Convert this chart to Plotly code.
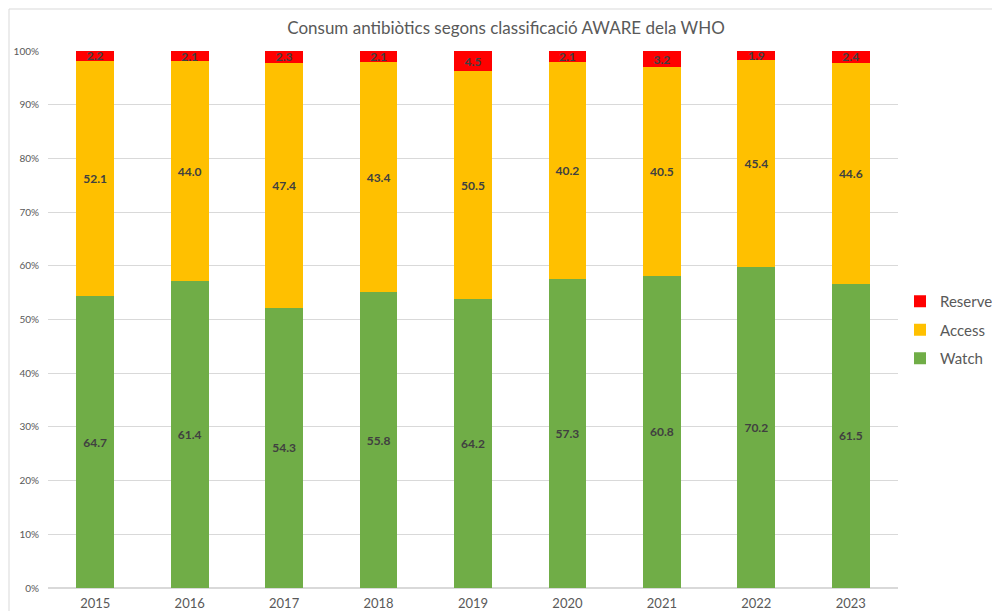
import plotly.graph_objects as go

years = ["2015", "2016", "2017", "2018", "2019", "2020", "2021", "2022", "2023"]
watch = [64.7, 61.4, 54.3, 55.8, 64.2, 57.3, 60.8, 70.2, 61.5]
access = [52.1, 44.0, 47.4, 43.4, 50.5, 40.2, 40.5, 45.4, 44.6]
reserve = [2.2, 2.1, 2.3, 2.1, 4.5, 2.1, 3.2, 1.9, 2.4]

FONT = "Lato, Roboto, sans-serif"

series = [
    ("Watch", watch, "#70AD47", 3),
    ("Access", access, "#FFC000", 2),
    ("Reserve", reserve, "#FF0000", 1),
]

fig = go.Figure()
for name, vals, col, rank in series:
    fig.add_trace(go.Bar(
        x=years, y=vals, name=name, legendgroup=name, legendrank=rank,
        marker=dict(color=col, line=dict(width=0)),
        text=[f"{v:.1f}" for v in vals],
        textposition="inside",
        insidetextanchor="middle",
        constraintext="none",
        textangle=0,
        textfont=dict(family=FONT, size=12, color="#404040", weight="bold"),
        hoverinfo="skip",
    ))

fig.update_layout(
    width=992, height=611,
    barmode="stack", barnorm="percent", bargap=0.6,
    paper_bgcolor="white", plot_bgcolor="white",
    margin=dict(l=48, r=94, t=51, b=23, autoexpand=False),
    title=dict(text="Consum antibiòtics segons classificació AWARE dela WHO",
               x=(506 - 48)/850, xref="paper", xanchor="center", y=1 - 28/611, yanchor="middle",
               font=dict(family=FONT, size=17, color="#595959")),
    showlegend=True,
    legend=dict(traceorder="grouped", x=1 + 2/850, xanchor="left", y=(588 - 330)/537, yanchor="middle",
                font=dict(family=FONT, size=15, color="#595959"),
                itemwidth=30, tracegroupgap=6, bgcolor="rgba(0,0,0,0)"),
    font=dict(family=FONT),
)
fig.update_yaxes(range=[0, 100], dtick=10, ticksuffix="%", showgrid=True,
                 gridcolor="#D9D9D9", gridwidth=1, zeroline=True, zerolinecolor="#D9D9D9",
                 showline=False, tickfont=dict(family=FONT, size=10, color="#595959"),
                 ticks="", ticklabelstandoff=8, fixedrange=True)
fig.update_xaxes(showline=False, tickfont=dict(family=FONT, size=13, color="#595959"),
                 ticks="", ticklabelstandoff=6, fixedrange=True)

fig.add_shape(type="rect", xref="paper", yref="paper",
              x0=-39/850, x1=1 + 200/850, y0=-100/537, y1=1 + 42/537,
              line=dict(color="#D9D9D9", width=1), fillcolor="rgba(0,0,0,0)", layer="below")

fig.write_html("out.html")
